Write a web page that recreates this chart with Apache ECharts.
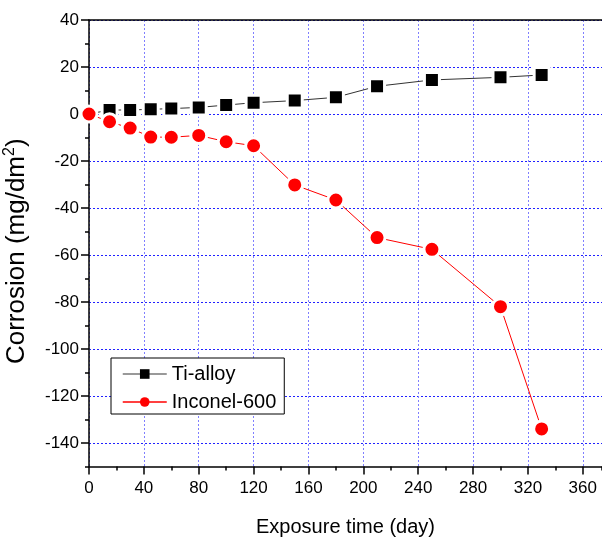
<!DOCTYPE html>
<html>
<head>
<meta charset="utf-8">
<script src="https://cdn.jsdelivr.net/npm/echarts@6/dist/echarts.min.js"></script>
<style>html,body{margin:0;padding:0;background:#fff}#c{width:602px;height:540px}</style>
</head>
<body>
<div id="c"></div>
<script>
const days = [0, 15, 30, 45, 60, 80, 100, 120, 150, 180, 210, 250, 300, 330];
const tiAlloy = [0, 1.7, 1.7, 2.0, 2.3, 2.8, 3.8, 4.8, 5.7, 7.1, 11.8, 14.5, 15.6, 16.6];
const inconel = [0, -3.3, -6.0, -9.8, -9.9, -9.1, -11.8, -13.5, -30.2, -36.6, -52.6, -57.6, -82.0, -134.0];
const xMajorTicks = [0, 40, 80, 120, 160, 200, 240, 280, 320, 360];
const yMajorTicks = [-140, -120, -100, -80, -60, -40, -20, 0, 20, 40];

const font = 'Arial, "Liberation Sans", sans-serif';
const chart = echarts.init(document.getElementById('c'), null, {renderer: 'canvas'});
const pair = (xs, ys) => xs.map((x, i) => [x, ys[i]]);

chart.setOption({
  animation: false,
  backgroundColor: '#fff',
  grid: {left: 89, right: 0, top: 20, bottom: 73.5, containLabel: false, outerBoundsMode: 'none'},
  legend: {
    orient: 'vertical',
    left: 111, top: 358,
    padding: [6, 8, 2, 11],
    itemWidth: 44, itemHeight: 12, itemGap: 8,
    borderColor: '#000', borderWidth: 1, backgroundColor: '#fff',
    textStyle: {fontFamily: font, fontSize: 20, color: '#000'},
    data: [
      {name: 'Ti-alloy', lineStyle: {color: '#777', width: 1.5}, itemStyle: {color: '#000', borderWidth: 0}},
      {name: 'Inconel-600', lineStyle: {color: '#f00', width: 1.5}, itemStyle: {color: '#f00', borderWidth: 0}}
    ]
  },
  xAxis: [
    {
      type: 'value', position: 'bottom', min: 0, max: 374, interval: 20,
      name: 'Exposure time (day)', nameLocation: 'middle', nameGap: 51,
      nameTextStyle: {fontFamily: font, fontSize: 20, color: '#000'},
      axisLine: {show: true, onZero: false, lineStyle: {color: '#000', width: 1.5}},
      axisTick: {show: true, inside: false, length: 4, lineStyle: {color: '#000', width: 1.5}},
      axisLabel: {show: false},
      splitLine: {show: false}
    },
    {
      type: 'value', position: 'bottom', min: 0, max: 374, interval: 20,
      axisLine: {show: false, onZero: false},
      axisTick: {show: true, inside: false, length: 8, customValues: xMajorTicks, lineStyle: {color: '#000', width: 1.5}},
      axisLabel: {show: true, margin: 13, customValues: xMajorTicks, fontFamily: font, fontSize: 17, color: '#000'},
      splitLine: {show: true, lineStyle: {color: '#7f7fff', width: 1, type: [2, 2]}}
    },
    {
      type: 'value', position: 'top', min: 0, max: 374, interval: 20,
      axisLine: {show: true, onZero: false, lineStyle: {color: '#000', width: 1.5}},
      axisTick: {show: false}, axisLabel: {show: false}, splitLine: {show: false}
    }
  ],
  yAxis: [
    {
      type: 'value', position: 'left', min: -150, max: 40, interval: 10,
      name: '{m|Corrosion (mg/dm}{sup|2}{m|)}', nameLocation: 'middle', nameGap: 57,
      nameTextStyle: {fontFamily: font, fontSize: 26, color: '#000', padding: [0, 16, 0, 0],
        rich: {
          m: {fontFamily: font, fontSize: 26, color: '#000', lineHeight: 30},
          sup: {fontFamily: font, fontSize: 16, color: '#000', verticalAlign: 'top', lineHeight: 30}
        }},
      axisLine: {show: true, onZero: false, lineStyle: {color: '#000', width: 1.5}},
      axisTick: {show: true, inside: false, length: 4, lineStyle: {color: '#000', width: 1.5}},
      axisLabel: {show: false},
      splitLine: {show: false}
    },
    {
      type: 'value', position: 'left', min: -150, max: 40, interval: 10,
      axisLine: {show: false, onZero: false},
      axisTick: {show: true, inside: false, length: 8, customValues: yMajorTicks, lineStyle: {color: '#000', width: 1.5}},
      axisLabel: {show: true, margin: 10, customValues: yMajorTicks, fontFamily: font, fontSize: 17, color: '#000'},
      splitLine: {show: true, lineStyle: {color: '#2020ff', width: 1, type: [2, 2]}}
    }
  ],
  series: [
    {
      name: 'Ti-alloy', type: 'line', xAxisIndex: 0, yAxisIndex: 0,
      data: pair(days, tiAlloy),
      symbol: 'rect', symbolSize: 15,
      lineStyle: {color: '#333', width: 1},
      itemStyle: {color: '#000', borderColor: '#fff', borderWidth: 3},
      z: 3
    },
    {
      name: 'Inconel-600', type: 'line', xAxisIndex: 0, yAxisIndex: 0,
      data: pair(days, inconel),
      symbol: 'circle', symbolSize: 16,
      lineStyle: {color: '#f00', width: 1},
      itemStyle: {color: '#f00', borderColor: '#fff', borderWidth: 3},
      z: 4
    }
  ]
});
</script>
</body>
</html>
